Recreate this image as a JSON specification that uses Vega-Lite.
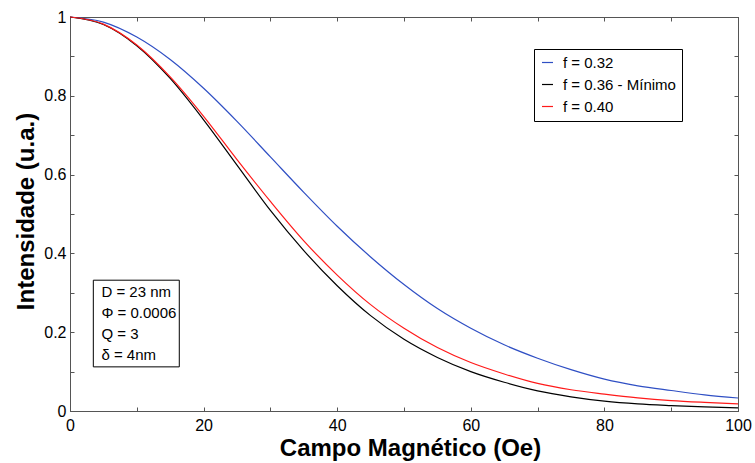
{
  "$schema": "https://vega.github.io/schema/vega-lite/v6.json",
  "width": 668,
  "height": 394,
  "autosize": "none",
  "padding": {"left": 70, "top": 17, "right": 17, "bottom": 52},
  "background": "white",
  "config": {
    "view": {"stroke": "#555", "strokeWidth": 1},
    "font": "Liberation Sans"
  },
  "datasets": {
    "curves": [
      {"campo": 0, "intensidade": 1.0, "serie": "f = 0.32"},
      {"campo": 5, "intensidade": 0.987, "serie": "f = 0.32"},
      {"campo": 10, "intensidade": 0.949, "serie": "f = 0.32"},
      {"campo": 15, "intensidade": 0.892, "serie": "f = 0.32"},
      {"campo": 20, "intensidade": 0.819, "serie": "f = 0.32"},
      {"campo": 25, "intensidade": 0.735, "serie": "f = 0.32"},
      {"campo": 30, "intensidade": 0.645, "serie": "f = 0.32"},
      {"campo": 35, "intensidade": 0.555, "serie": "f = 0.32"},
      {"campo": 40, "intensidade": 0.469, "serie": "f = 0.32"},
      {"campo": 45, "intensidade": 0.391, "serie": "f = 0.32"},
      {"campo": 50, "intensidade": 0.321, "serie": "f = 0.32"},
      {"campo": 55, "intensidade": 0.260, "serie": "f = 0.32"},
      {"campo": 60, "intensidade": 0.210, "serie": "f = 0.32"},
      {"campo": 65, "intensidade": 0.168, "serie": "f = 0.32"},
      {"campo": 70, "intensidade": 0.134, "serie": "f = 0.32"},
      {"campo": 75, "intensidade": 0.105, "serie": "f = 0.32"},
      {"campo": 80, "intensidade": 0.081, "serie": "f = 0.32"},
      {"campo": 85, "intensidade": 0.064, "serie": "f = 0.32"},
      {"campo": 90, "intensidade": 0.052, "serie": "f = 0.32"},
      {"campo": 95, "intensidade": 0.041, "serie": "f = 0.32"},
      {"campo": 100, "intensidade": 0.033, "serie": "f = 0.32"},
      {"campo": 0, "intensidade": 1.0, "serie": "f = 0.36 - Mínimo"},
      {"campo": 5, "intensidade": 0.981, "serie": "f = 0.36 - Mínimo"},
      {"campo": 10, "intensidade": 0.927, "serie": "f = 0.36 - Mínimo"},
      {"campo": 15, "intensidade": 0.844, "serie": "f = 0.36 - Mínimo"},
      {"campo": 20, "intensidade": 0.739, "serie": "f = 0.36 - Mínimo"},
      {"campo": 25, "intensidade": 0.624, "serie": "f = 0.36 - Mínimo"},
      {"campo": 30, "intensidade": 0.509, "serie": "f = 0.36 - Mínimo"},
      {"campo": 35, "intensidade": 0.407, "serie": "f = 0.36 - Mínimo"},
      {"campo": 40, "intensidade": 0.318, "serie": "f = 0.36 - Mínimo"},
      {"campo": 45, "intensidade": 0.242, "serie": "f = 0.36 - Mínimo"},
      {"campo": 50, "intensidade": 0.182, "serie": "f = 0.36 - Mínimo"},
      {"campo": 55, "intensidade": 0.136, "serie": "f = 0.36 - Mínimo"},
      {"campo": 60, "intensidade": 0.100, "serie": "f = 0.36 - Mínimo"},
      {"campo": 65, "intensidade": 0.073, "serie": "f = 0.36 - Mínimo"},
      {"campo": 70, "intensidade": 0.051, "serie": "f = 0.36 - Mínimo"},
      {"campo": 75, "intensidade": 0.036, "serie": "f = 0.36 - Mínimo"},
      {"campo": 80, "intensidade": 0.025, "serie": "f = 0.36 - Mínimo"},
      {"campo": 85, "intensidade": 0.018, "serie": "f = 0.36 - Mínimo"},
      {"campo": 90, "intensidade": 0.0137, "serie": "f = 0.36 - Mínimo"},
      {"campo": 95, "intensidade": 0.0103, "serie": "f = 0.36 - Mínimo"},
      {"campo": 100, "intensidade": 0.008, "serie": "f = 0.36 - Mínimo"},
      {"campo": 0, "intensidade": 1.0, "serie": "f = 0.40"},
      {"campo": 5, "intensidade": 0.982, "serie": "f = 0.40"},
      {"campo": 10, "intensidade": 0.929, "serie": "f = 0.40"},
      {"campo": 15, "intensidade": 0.848, "serie": "f = 0.40"},
      {"campo": 20, "intensidade": 0.748, "serie": "f = 0.40"},
      {"campo": 25, "intensidade": 0.638, "serie": "f = 0.40"},
      {"campo": 30, "intensidade": 0.532, "serie": "f = 0.40"},
      {"campo": 35, "intensidade": 0.432, "serie": "f = 0.40"},
      {"campo": 40, "intensidade": 0.345, "serie": "f = 0.40"},
      {"campo": 45, "intensidade": 0.270, "serie": "f = 0.40"},
      {"campo": 50, "intensidade": 0.210, "serie": "f = 0.40"},
      {"campo": 55, "intensidade": 0.161, "serie": "f = 0.40"},
      {"campo": 60, "intensidade": 0.123, "serie": "f = 0.40"},
      {"campo": 65, "intensidade": 0.094, "serie": "f = 0.40"},
      {"campo": 70, "intensidade": 0.070, "serie": "f = 0.40"},
      {"campo": 75, "intensidade": 0.054, "serie": "f = 0.40"},
      {"campo": 80, "intensidade": 0.043, "serie": "f = 0.40"},
      {"campo": 85, "intensidade": 0.0335, "serie": "f = 0.40"},
      {"campo": 90, "intensidade": 0.0265, "serie": "f = 0.40"},
      {"campo": 95, "intensidade": 0.0218, "serie": "f = 0.40"},
      {"campo": 100, "intensidade": 0.018, "serie": "f = 0.40"}
    ]
  },
  "layer": [
    {
      "data": {"name": "curves"},
      "mark": {"type": "line", "opacity": 0},
      "encoding": {
        "x": {
          "field": "campo", "type": "quantitative",
          "scale": {"domain": [0, 100], "nice": false, "zero": false},
          "axis": {
            "orient": "top", "title": null, "labels": false, "grid": false,
            "values": [0, 10, 20, 30, 40, 50, 60, 70, 80, 90, 100],
            "tickSize": -4, "tickColor": "#555", "domainColor": "#555"
          }
        },
        "y": {
          "field": "intensidade", "type": "quantitative",
          "scale": {"domain": [0, 1], "nice": false, "zero": false},
          "axis": {
            "orient": "right", "title": null, "labels": false, "grid": false,
            "values": [0, 0.1, 0.2, 0.3, 0.4, 0.5, 0.6, 0.7, 0.8, 0.9, 1],
            "tickSize": -4, "tickColor": "#555", "domainColor": "#555"
          }
        }
      }
    },
    {
      "data": {"name": "curves"},
      "mark": {"type": "line", "strokeWidth": 1.2, "interpolate": "monotone"},
      "encoding": {
        "x": {
          "field": "campo", "type": "quantitative",
          "axis": {
            "orient": "bottom", "grid": false,
            "values": [0, 10, 20, 30, 40, 50, 60, 70, 80, 90, 100],
            "labelExpr": "datum.value % 20 == 0 ? datum.label : ''",
            "tickSize": -4, "tickColor": "#555", "domainColor": "#555",
            "labelFont": "Liberation Sans", "labelFontSize": 16, "labelColor": "black",
            "labelPadding": 10, "labelFlush": false, "labelOverlap": false,
            "title": "Campo Magnético (Oe)",
            "titleFont": "Liberation Sans", "titleFontSize": 24, "titleFontWeight": "bold",
            "titleColor": "black", "titleX": 340, "titleY": 44, "titleBaseline": "alphabetic"
          }
        },
        "y": {
          "field": "intensidade", "type": "quantitative",
          "axis": {
            "orient": "left", "grid": false, "format": "~g",
            "values": [0, 0.1, 0.2, 0.3, 0.4, 0.5, 0.6, 0.7, 0.8, 0.9, 1],
            "labelExpr": "round(datum.value * 10) % 2 == 0 ? datum.label : ''",
            "tickSize": -4, "tickColor": "#555", "domainColor": "#555",
            "labelFont": "Liberation Sans", "labelFontSize": 16, "labelColor": "black",
            "labelPadding": 8, "labelFlush": false, "labelOverlap": false,
            "title": "Intensidade (u.a.)",
            "titleFont": "Liberation Sans", "titleFontSize": 24, "titleFontWeight": "bold",
            "titleColor": "black", "titleX": -37, "titleY": 194, "titleBaseline": "alphabetic",
            "titleAlign": "center", "titleAngle": -90
          }
        },
        "color": {
          "field": "serie", "type": "nominal",
          "scale": {
            "domain": ["f = 0.32", "f = 0.36 - Mínimo", "f = 0.40"],
            "range": ["#2f4fc4", "#000000", "#ff1a1a"]
          },
          "legend": {
            "title": null, "orient": "none", "legendX": 464, "legendY": 32,
            "symbolType": "stroke", "symbolSize": 121, "symbolStrokeWidth": 1.2,
            "labelFont": "Liberation Sans", "labelFontSize": 15, "labelColor": "black",
            "labelOffset": 8, "labelLimit": 300, "rowPadding": 6, "padding": 6,
            "strokeColor": "black", "fillColor": "white"
          }
        }
      }
    },
    {
      "data": {"values": [{}]},
      "mark": {"type": "rect", "fill": "white", "stroke": "black", "strokeWidth": 1},
      "encoding": {
        "x": {"datum": 3.49, "type": "quantitative", "axis": null},
        "x2": {"datum": 16.36},
        "y": {"datum": 0.332, "type": "quantitative", "axis": null},
        "y2": {"datum": 0.112}
      }
    },
    {
      "data": {"values": [{}]},
      "mark": {
        "type": "text", "align": "left", "baseline": "alphabetic",
        "font": "Liberation Sans", "fontSize": 15, "lineHeight": 21, "color": "black"
      },
      "encoding": {
        "x": {"datum": 4.7, "type": "quantitative", "axis": null},
        "y": {"datum": 0.290, "type": "quantitative", "axis": null},
        "text": {"value": ["D = 23 nm", "Φ = 0.0006", "Q = 3", "δ = 4nm"]}
      }
    }
  ],
  "resolve": {"axis": {"x": "independent", "y": "independent"}}
}
